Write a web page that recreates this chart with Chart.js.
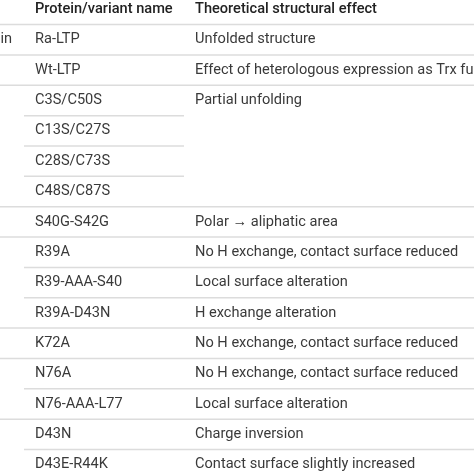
<!DOCTYPE html>
<html><head><meta charset="utf-8">
<script src="https://cdn.jsdelivr.net/npm/chart.js@4"></script>
<style>html,body{margin:0;padding:0;background:#fff}#w{width:474px;height:474px}</style>
</head><body><div id="w"><canvas id="c"></canvas></div>
<script>
const headers = ["Protein/variant name", "Theoretical structural effect"];
const groupLabels = ["in", "", "", "", "", "", "", "", "", "", "", "", "", "", ""];
const variants = ["Ra-LTP","Wt-LTP","C3S/C50S","C13S/C27S","C28S/C73S","C48S/C87S","S40G-S42G","R39A","R39-AAA-S40","R39A-D43N","K72A","N76A","N76-AAA-L77","D43N","D43E-R44K"];
const effects = ["Unfolded structure","Effect of heterologous expression as Trx fusion","Partial unfolding","","","","Polar \u2192 aliphatic area","No H exchange, contact surface reduced","Local surface alteration","H exchange alteration","No H exchange, contact surface reduced","No H exchange, contact surface reduced","Local surface alteration","Charge inversion","Contact surface slightly increased"];
const separators = ["full","full","mid","mid","mid","full","full","right","right","full","full","right","full","right"];

const tablePlugin = {
  id: 'table',
  afterDraw(chart) {
    const ctx = chart.ctx, y = chart.scales.y, W = chart.width;
    ctx.save();
    ctx.textBaseline = 'middle';
    ctx.font = '500 14.6px Roboto';
    ctx.fillStyle = '#222';
    ctx.fillText(headers[0], 35, y.getPixelForValue(0));
    ctx.fillText(headers[1], 195, y.getPixelForValue(0));
    ctx.strokeStyle = '#dcdcdc'; ctx.lineWidth = 1.5;
    const line = (v, x0, x1) => { const p = y.getPixelForValue(v); ctx.beginPath(); ctx.moveTo(x0, p); ctx.lineTo(x1, p); ctx.stroke(); };
    line(0.5, 0, W);
    ctx.font = '14.6px Roboto';
    ctx.fillStyle = '#3a3a3a';
    variants.forEach((v, i) => {
      const r = i + 1, py = y.getPixelForValue(r);
      if (groupLabels[i]) { ctx.textAlign = 'right'; ctx.fillText(groupLabels[i], 12, py); }
      ctx.textAlign = 'left';
      ctx.fillText(v, 35, py);
      if (effects[i]) ctx.fillText(effects[i], 195, py);
      if (i < separators.length) {
        const s = separators[i];
        if (s === 'full') line(r + 0.5, 0, W);
        else if (s === 'mid') line(r + 0.5, 24, 184);
        else line(r + 0.5, 24, W);
      }
    });
    ctx.restore();
  }
};

new Chart(document.getElementById('c'), {
  type: 'bar',
  data: { labels: variants, datasets: [{ data: variants.map(() => 0), backgroundColor: 'transparent' }] },
  options: {
    responsive: true, maintainAspectRatio: false, animation: false,
    layout: { padding: 0 },
    plugins: { legend: { display: false }, tooltip: { enabled: false } },
    scales: {
      x: { display: false },
      y: { type: 'linear', display: false, reverse: true, min: -0.31, max: 15.308 }
    }
  },
  plugins: [tablePlugin]
});
</script></body></html>
